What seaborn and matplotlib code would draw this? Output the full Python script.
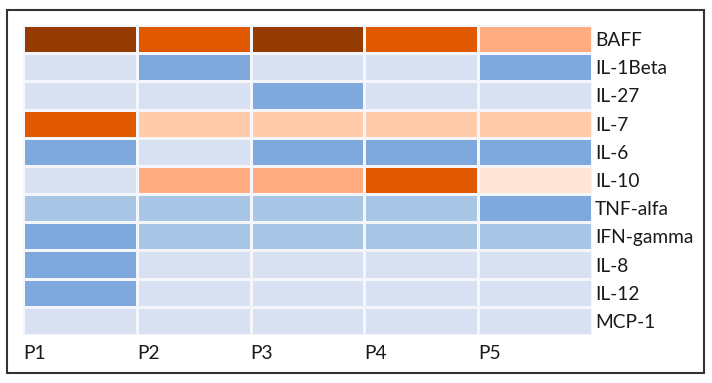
import numpy as np
import pandas as pd
import seaborn as sns
import matplotlib.pyplot as plt
from matplotlib.colors import ListedColormap
from matplotlib.patches import Rectangle

# discrete expression levels (-2 = strongest blue, 5 = darkest brown)
cytokines = ['BAFF', 'IL-1Beta', 'IL-27', 'IL-7', 'IL-6', 'IL-10',
             'TNF-alfa', 'IFN-gamma', 'IL-8', 'IL-12', 'MCP-1']
patients = ['P1', 'P2', 'P3', 'P4', 'P5']

baff = [5, 4, 5, 4, 3]
il1beta = [0, -2, 0, 0, -2]
il27 = [0, 0, -2, 0, 0]
il7 = [4, 2, 2, 2, 2]
il6 = [-2, 0, -2, -2, -2]
il10 = [0, 3, 3, 4, 1]
tnfa = [-1, -1, -1, -1, -2]
ifng = [-2, -1, -1, -1, -1]
il8 = [-2, 0, 0, 0, 0]
il12 = [-2, 0, 0, 0, 0]
mcp1 = [0, 0, 0, 0, 0]

level_colors = ['#7fa9dc', '#a9c5e6', '#d7e1f2', '#ffe4d7',
                '#ffcba9', '#ffad80', '#e05800', '#953a00']

df = pd.DataFrame([baff, il1beta, il27, il7, il6, il10, tnfa, ifng, il8, il12, mcp1],
                  index=cytokines, columns=patients)

plt.rcParams['font.family'] = ['Lato', 'DejaVu Sans']
fig = plt.figure(figsize=(7.12, 3.83), dpi=100)
ax = fig.add_axes([23/712, 1 - 335/383, (592 - 23)/712, (335 - 25)/383])

sns.heatmap(df, ax=ax, cmap=ListedColormap(level_colors), vmin=-2.5, vmax=5.5,
            cbar=False, linewidths=0.8, linecolor='#f4f6fb')

# row labels on the right, column labels at left edge of each column
ax.yaxis.tick_right()
ax.set_yticks(np.arange(len(cytokines)) + 0.5)
ax.set_yticklabels(cytokines, rotation=0, fontsize=13.8, color='#1a1a1a')
ax.set_xticks(np.arange(len(patients)))
ax.set_xticklabels(patients, rotation=0, ha='left', fontsize=13.8, color='#1a1a1a')
ax.tick_params(length=0)
ax.tick_params(axis='y', pad=2)
ax.tick_params(axis='x', pad=7)
ax.set_xlabel('')
ax.set_ylabel('')

# frame around the whole picture
fig.patches.append(Rectangle((7/712, 1 - 373/383), (704 - 7)/712, (373 - 10)/383,
                             transform=fig.transFigure, fill=False,
                             edgecolor='#333333', linewidth=1.5))

fig.savefig('out.png', dpi=100)
